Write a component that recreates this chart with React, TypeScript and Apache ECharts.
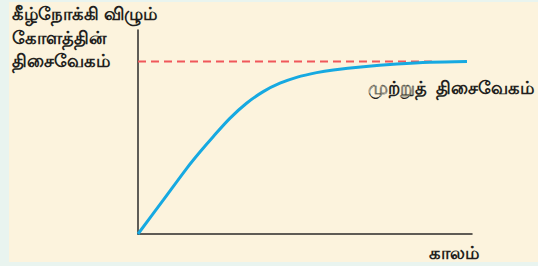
import React, { useEffect, useRef } from "react";
import * as echarts from "echarts";

const timeValues = [0, 0.76, 1.46, 1.86, 2.25, 2.75, 3.25, 3.75, 4.25, 4.75, 5.35, 5.85, 6.75, 7.75, 8.74, 9.85];
const velocityValues = [0, 1.67, 3.22, 4.03, 4.77, 5.67, 6.41, 6.98, 7.39, 7.68, 7.91, 8.04, 8.2, 8.33, 8.42, 8.46];
const terminalVelocity = 8.45;
const terminalLineX = [0, 8.8];
const yLabelLines = ["கீழ்நோக்கி விழும்", "கோளத்தின்", "திசைவேகம்"];
const terminalLabel = "முற்றுத்  திசைவேகம்";
const xLabel = "காலம்";

export default function App() {
  const ref = useRef<HTMLDivElement>(null);
  useEffect(() => {
    if (!ref.current) return;
    const chart = echarts.init(ref.current, null, { renderer: "svg" });
    const font = "'Noto Sans', 'DejaVu Sans', sans-serif";
    const curve = timeValues.map((t, i) => [t, velocityValues[i]]);
    const dashed = terminalLineX.map((t) => [t, terminalVelocity]);
    const txt = { fontSize: 18, fontWeight: "bold", fontFamily: font, fill: "#231f20" };
    chart.setOption({
      animation: false,
      backgroundColor: "#e9f4ef",
      grid: { left: 138, top: 30, right: 66, bottom: 32 },
      xAxis: {
        type: "value",
        min: 0,
        max: 10,
        axisLine: { show: true, lineStyle: { color: "#2b2a28", width: 1.5 } },
        axisTick: { show: false },
        axisLabel: { show: false },
        splitLine: { show: false },
      },
      yAxis: {
        type: "value",
        min: 0,
        max: 10,
        axisLine: { show: true, lineStyle: { color: "#2b2a28", width: 1.5 } },
        axisTick: { show: false },
        axisLabel: { show: false },
        splitLine: { show: false },
      },
      graphic: [
        {
          type: "rect",
          z: -10,
          silent: true,
          shape: { x: 9, y: 2, width: 529, height: 260 },
          style: { fill: "#fcf3dd" },
        },
        ...yLabelLines.map((s, i) => ({
          type: "text",
          left: 12,
          top: 4 + i * 23.5,
          style: { text: s, ...txt },
        })),
        {
          type: "text",
          left: 368,
          top: 78,
          style: { text: terminalLabel, ...txt },
        },
        {
          type: "text",
          left: 429,
          top: 243,
          style: { text: xLabel, ...txt },
        },
      ],
      series: [
        {
          type: "line",
          data: dashed,
          showSymbol: false,
          lineStyle: { color: "#f0575a", width: 2, type: [8, 5] },
          z: 2,
        },
        {
          type: "line",
          data: curve,
          smooth: 0.3,
          showSymbol: false,
          lineStyle: { color: "#16a9e1", width: 3 },
          z: 3,
        },
      ],
    });
    return () => chart.dispose();
  }, []);
  return (
    <div
      ref={ref}
      style={{ position: "absolute", left: 0, top: 0, width: 538, height: 266 }}
    />
  );
}
